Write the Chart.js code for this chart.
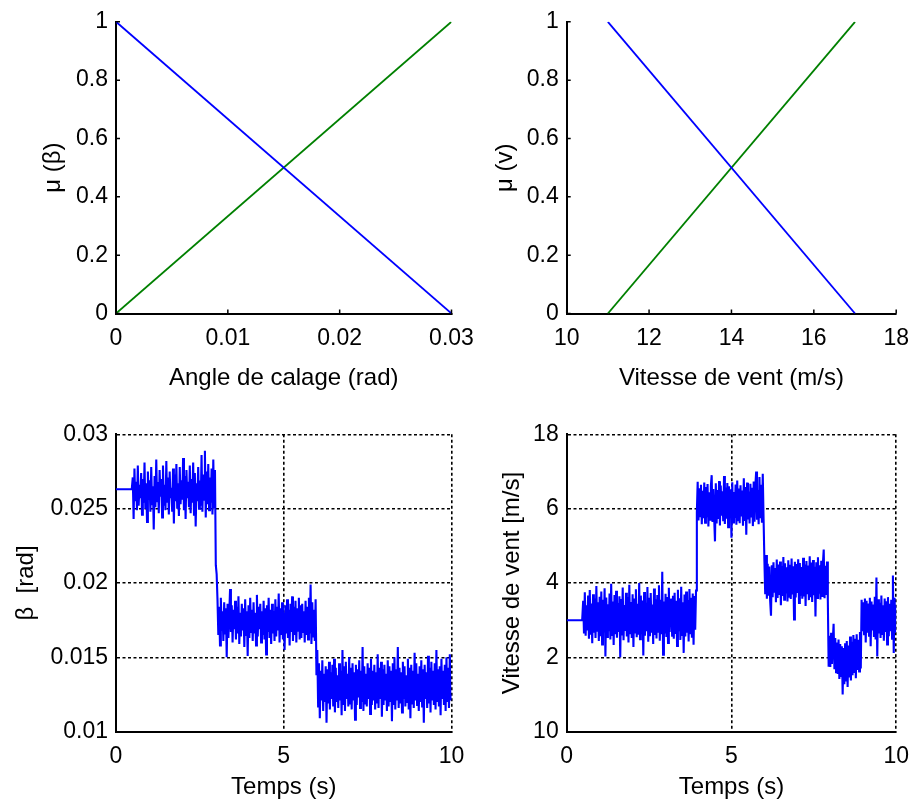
<!DOCTYPE html>
<html>
<head>
<meta charset="utf-8">
<script src="https://cdn.jsdelivr.net/npm/chart.js@4.4.1/dist/chart.umd.min.js"></script>
<style>
  html, body { margin: 0; padding: 0; background: #ffffff; }
  #figure { position: relative; width: 920px; height: 805px; }
  #figure canvas { position: absolute; left: 0; top: 0; }
</style>
</head>
<body>
<div id="figure">
  <canvas id="pitchMembership" width="920" height="805"></canvas>
  <canvas id="windMembership" width="920" height="805"></canvas>
  <canvas id="pitchResponse" width="920" height="805"></canvas>
  <canvas id="windResponse" width="920" height="805"></canvas>
</div>
<script>
// ---- Membership functions (top row) ----
const pitchAngles = [0, 0.03];
const pitchMuLow = [1, 0];
const pitchMuHigh = [0, 1];
const windSpeeds = [11, 17];
const windMuLow = [1, 0];
const windMuHigh = [0, 1];

// ---- Tick values and labels ----
const pitchTickValues = [0, 0.01, 0.02, 0.03];
const pitchTickLabels = ['0', '0.01', '0.02', '0.03'];
const muTickValues = [0, 0.2, 0.4, 0.6, 0.8, 1];
const muTickLabels = ['0', '0.2', '0.4', '0.6', '0.8', '1'];
const speedTickValues = [10, 12, 14, 16, 18];
const speedTickLabels = ['10', '12', '14', '16', '18'];
const timeTickValues = [0, 5, 10];
const timeTickLabels = ['0', '5', '10'];
const betaTickValues = [0.01, 0.015, 0.02, 0.025, 0.03];
const betaTickLabels = ['0.01', '0.015', '0.02', '0.025', '0.03'];
const windTickValues = [0, 2, 4, 6, 8];
const windTickLabels = ['10', '2', '4', '6', '18'];

// ---- Simulation time samples (s) ----
const sampleTimes = [
  0, 0.47,
  0.5, 0.525, 0.55, 0.575, 0.6, 0.625, 0.65, 0.675, 0.7, 0.725, 0.75, 0.775, 0.8, 0.825, 0.85, 0.875, 0.9, 0.925, 0.95, 0.975,
  1, 1.025, 1.05, 1.075, 1.1, 1.125, 1.15, 1.175, 1.2, 1.225, 1.25, 1.275, 1.3, 1.325, 1.35, 1.375, 1.4, 1.425, 1.45, 1.475,
  1.5, 1.525, 1.55, 1.575, 1.6, 1.625, 1.65, 1.675, 1.7, 1.725, 1.75, 1.775, 1.8, 1.825, 1.85, 1.875, 1.9, 1.925, 1.95, 1.975,
  2, 2.025, 2.05, 2.075, 2.1, 2.125, 2.15, 2.175, 2.2, 2.225, 2.25, 2.275, 2.3, 2.325, 2.35, 2.375, 2.4, 2.425, 2.45, 2.475,
  2.5, 2.525, 2.55, 2.575, 2.6, 2.625, 2.65, 2.675, 2.7, 2.725, 2.75, 2.775, 2.8, 2.825, 2.85, 2.875, 2.9, 2.925, 2.95, 2.975,
  3, 3.025, 3.05, 3.075, 3.1, 3.125, 3.15, 3.175, 3.2, 3.225, 3.25, 3.275, 3.3, 3.325, 3.35, 3.375, 3.4, 3.425, 3.45, 3.475,
  3.5, 3.525, 3.55, 3.575, 3.6, 3.625, 3.65, 3.675, 3.7, 3.725, 3.75, 3.775, 3.8, 3.825, 3.85, 3.875, 3.9, 3.925, 3.95, 3.975,
  4, 4.025, 4.05, 4.075, 4.1, 4.125, 4.15, 4.175, 4.2, 4.225, 4.25, 4.275, 4.3, 4.325, 4.35, 4.375, 4.4, 4.425, 4.45, 4.475,
  4.5, 4.525, 4.55, 4.575, 4.6, 4.625, 4.65, 4.675, 4.7, 4.725, 4.75, 4.775, 4.8, 4.825, 4.85, 4.875, 4.9, 4.925, 4.95, 4.975,
  5, 5.025, 5.05, 5.075, 5.1, 5.125, 5.15, 5.175, 5.2, 5.225, 5.25, 5.275, 5.3, 5.325, 5.35, 5.375, 5.4, 5.425, 5.45, 5.475,
  5.5, 5.525, 5.55, 5.575, 5.6, 5.625, 5.65, 5.675, 5.7, 5.725, 5.75, 5.775, 5.8, 5.825, 5.85, 5.875, 5.9, 5.925, 5.95, 5.975,
  6, 6.025, 6.05, 6.075, 6.1, 6.125, 6.15, 6.175, 6.2, 6.225, 6.25, 6.275, 6.3, 6.325, 6.35, 6.375, 6.4, 6.425, 6.45, 6.475,
  6.5, 6.525, 6.55, 6.575, 6.6, 6.625, 6.65, 6.675, 6.7, 6.725, 6.75, 6.775, 6.8, 6.825, 6.85, 6.875, 6.9, 6.925, 6.95, 6.975,
  7, 7.025, 7.05, 7.075, 7.1, 7.125, 7.15, 7.175, 7.2, 7.225, 7.25, 7.275, 7.3, 7.325, 7.35, 7.375, 7.4, 7.425, 7.45, 7.475,
  7.5, 7.525, 7.55, 7.575, 7.6, 7.625, 7.65, 7.675, 7.7, 7.725, 7.75, 7.775, 7.8, 7.825, 7.85, 7.875, 7.9, 7.925, 7.95, 7.975,
  8, 8.025, 8.05, 8.075, 8.1, 8.125, 8.15, 8.175, 8.2, 8.225, 8.25, 8.275, 8.3, 8.325, 8.35, 8.375, 8.4, 8.425, 8.45, 8.475,
  8.5, 8.525, 8.55, 8.575, 8.6, 8.625, 8.65, 8.675, 8.7, 8.725, 8.75, 8.775, 8.8, 8.825, 8.85, 8.875, 8.9, 8.925, 8.95, 8.975,
  9, 9.025, 9.05, 9.075, 9.1, 9.125, 9.15, 9.175, 9.2, 9.225, 9.25, 9.275, 9.3, 9.325, 9.35, 9.375, 9.4, 9.425, 9.45, 9.475,
  9.5, 9.525, 9.55, 9.575, 9.6, 9.625, 9.65, 9.675, 9.7, 9.725, 9.75, 9.775, 9.8, 9.825, 9.85, 9.875, 9.9, 9.925, 9.95, 9.975,
  10
];

// ---- Pitch angle β (rad) ----
const betaHold = [0.0263, 0.0263];                 // t = 0 .. 0.47
const betaStage1 = [                               // t = 0.500 .. 2.950
  0.0271, 0.0243, 0.0277, 0.0255, 0.0268, 0.0249, 0.0279, 0.0252, 0.0266, 0.0257,
  0.0274, 0.0246, 0.0270, 0.0254, 0.0281, 0.0250, 0.0267, 0.0241, 0.0275, 0.0256,
  0.0269, 0.0248, 0.0278, 0.0253, 0.0265, 0.0236, 0.0272, 0.0251, 0.0283, 0.0255,
  0.0268, 0.0247, 0.0276, 0.0258, 0.0270, 0.0244, 0.0279, 0.0252, 0.0266, 0.0249,
  0.0282, 0.0254, 0.0271, 0.0246, 0.0275, 0.0257, 0.0264, 0.0248, 0.0277, 0.0240,
  0.0273, 0.0255, 0.0280, 0.0250, 0.0267, 0.0245, 0.0278, 0.0253, 0.0269, 0.0256,
  0.0284, 0.0249, 0.0272, 0.0243, 0.0276, 0.0257, 0.0268, 0.0251, 0.0279, 0.0247,
  0.0270, 0.0254, 0.0281, 0.0246, 0.0274, 0.0238, 0.0267, 0.0255, 0.0278, 0.0250,
  0.0269, 0.0252, 0.0286, 0.0248, 0.0273, 0.0256, 0.0289, 0.0244, 0.0275, 0.0253,
  0.0280, 0.0249, 0.0271, 0.0254, 0.0277, 0.0246, 0.0283, 0.0251, 0.0276
];
const betaStep1 = [0.0212, 0.0206];                // t = 2.975, 3.000
const betaStage2 = [                               // t = 3.025 .. 5.950
  0.0189, 0.0165, 0.0184, 0.0158, 0.0190, 0.0168, 0.0181, 0.0161, 0.0187, 0.0166,
  0.0183, 0.0150, 0.0186, 0.0163, 0.0179, 0.0196, 0.0167, 0.0185, 0.0160, 0.0182,
  0.0169, 0.0188, 0.0162, 0.0184, 0.0166, 0.0191, 0.0159, 0.0180, 0.0164, 0.0186,
  0.0168, 0.0183, 0.0157, 0.0189, 0.0165, 0.0181, 0.0151, 0.0185, 0.0163, 0.0190,
  0.0167, 0.0182, 0.0161, 0.0187, 0.0166, 0.0180, 0.0158, 0.0192, 0.0164, 0.0184,
  0.0169, 0.0186, 0.0160, 0.0181, 0.0165, 0.0188, 0.0162, 0.0183, 0.0152, 0.0185,
  0.0167, 0.0190, 0.0163, 0.0182, 0.0159, 0.0186, 0.0166, 0.0181, 0.0161, 0.0189,
  0.0164, 0.0184, 0.0168, 0.0193, 0.0160, 0.0183, 0.0165, 0.0187, 0.0162, 0.0180,
  0.0155, 0.0185, 0.0166, 0.0189, 0.0163, 0.0182, 0.0158, 0.0186, 0.0167, 0.0191,
  0.0161, 0.0184, 0.0165, 0.0188, 0.0160, 0.0183, 0.0168, 0.0190, 0.0162, 0.0185,
  0.0163, 0.0186, 0.0167, 0.0181, 0.0160, 0.0188, 0.0165, 0.0184, 0.0162, 0.0190,
  0.0166, 0.0199, 0.0159, 0.0187, 0.0164, 0.0182, 0.0161, 0.0189
];
const betaStep2 = [0.0138];                        // t = 5.975
const betaStage3 = [                               // t = 6.000 .. 9.975
  0.0155, 0.0117, 0.0146, 0.0109, 0.0141, 0.0121, 0.0148, 0.0114, 0.0139, 0.0120,
  0.0144, 0.0106, 0.0142, 0.0119, 0.0147, 0.0115, 0.0140, 0.0122, 0.0145, 0.0117,
  0.0149, 0.0113, 0.0143, 0.0120, 0.0138, 0.0116, 0.0146, 0.0121, 0.0141, 0.0111,
  0.0155, 0.0118, 0.0144, 0.0114, 0.0147, 0.0122, 0.0139, 0.0117, 0.0150, 0.0119,
  0.0143, 0.0115, 0.0146, 0.0121, 0.0140, 0.0108, 0.0145, 0.0118, 0.0142, 0.0123,
  0.0148, 0.0116, 0.0141, 0.0120, 0.0157, 0.0114, 0.0144, 0.0119, 0.0139, 0.0117,
  0.0146, 0.0122, 0.0143, 0.0112, 0.0149, 0.0118, 0.0141, 0.0121, 0.0145, 0.0115,
  0.0140, 0.0119, 0.0152, 0.0116, 0.0143, 0.0122, 0.0147, 0.0110, 0.0142, 0.0118,
  0.0145, 0.0121, 0.0139, 0.0114, 0.0148, 0.0117, 0.0144, 0.0120, 0.0141, 0.0107,
  0.0146, 0.0118, 0.0150, 0.0115, 0.0142, 0.0121, 0.0157, 0.0116, 0.0143, 0.0119,
  0.0140, 0.0113, 0.0147, 0.0122, 0.0144, 0.0117, 0.0138, 0.0120, 0.0149, 0.0115,
  0.0143, 0.0109, 0.0145, 0.0119, 0.0141, 0.0116, 0.0153, 0.0121, 0.0146, 0.0118,
  0.0139, 0.0114, 0.0144, 0.0120, 0.0148, 0.0117, 0.0142, 0.0106, 0.0145, 0.0122,
  0.0140, 0.0116, 0.0151, 0.0119, 0.0143, 0.0113, 0.0147, 0.0121, 0.0141, 0.0118,
  0.0146, 0.0115, 0.0155, 0.0120, 0.0142, 0.0117, 0.0144, 0.0111, 0.0149, 0.0122,
  0.0141, 0.0118, 0.0145, 0.0114, 0.0150, 0.0120, 0.0143, 0.0116, 0.0152, 0.0121
];
const betaEnd = [0.0125];                          // t = 10

// ---- Wind speed (axis units) ----
const windHold = [3.0, 3.0];                       // t = 0 .. 0.47
const windStage1 = [                               // t = 0.500 .. 3.925
  3.52, 2.64, 3.75, 2.58, 3.40, 2.72, 3.66, 2.50, 3.81, 2.61,
  3.45, 2.38, 3.70, 2.66, 3.58, 2.52, 3.92, 2.69, 3.48, 2.44,
  3.63, 2.57, 3.77, 2.35, 3.55, 2.67, 3.86, 2.02, 3.61, 2.55,
  3.43, 2.70, 3.72, 2.48, 3.98, 2.60, 3.50, 2.33, 3.68, 2.62,
  3.79, 2.53, 3.46, 2.68, 3.64, 2.00, 3.57, 2.59, 3.88, 2.46,
  3.41, 2.71, 3.74, 2.56, 3.62, 2.40, 3.95, 2.65, 3.49, 2.52,
  3.70, 2.28, 3.58, 2.67, 3.83, 2.54, 3.44, 2.61, 4.00, 2.49,
  3.66, 2.63, 3.53, 2.05, 3.76, 2.58, 3.47, 2.70, 3.89, 2.42,
  3.60, 2.57, 3.73, 2.66, 3.42, 2.36, 3.85, 2.60, 3.56, 2.51,
  3.68, 2.69, 3.94, 2.45, 3.55, 2.62, 4.30, 2.07, 3.50, 2.64,
  3.71, 2.55, 3.62, 2.39, 3.87, 2.68, 3.45, 3.58, 2.58, 3.66,
  2.50, 3.74, 2.63, 3.52, 2.31, 3.82, 2.70, 3.59, 2.47, 3.90,
  2.60, 3.48, 2.12, 3.69, 2.56, 3.77, 2.66, 3.54, 2.43, 3.84,
  2.62, 3.60, 2.53, 3.72, 2.34, 3.65, 2.74, 3.80
];
const windStep1 = [5.9];                           // t = 3.950
const windStage2 = [                               // t = 3.975 .. 5.975
  6.72, 5.68, 6.55, 5.80, 6.64, 5.58, 6.48, 5.74, 6.70, 5.62,
  6.58, 5.77, 6.66, 5.52, 6.44, 5.70, 6.61, 6.90, 5.64, 6.53,
  5.76, 5.12, 6.68, 5.60, 6.50, 5.72, 6.74, 5.55, 6.62, 5.81,
  6.47, 5.66, 6.88, 5.59, 6.57, 5.73, 6.69, 5.50, 6.60, 5.78,
  6.52, 5.22, 6.71, 5.63, 6.45, 5.75, 6.65, 5.57, 6.76, 5.69,
  6.54, 5.61, 6.63, 5.79, 6.49, 5.54, 6.82, 5.67, 6.58, 5.30,
  6.70, 5.71, 6.46, 5.60, 6.67, 5.76, 6.56, 5.53, 6.73, 5.65,
  6.61, 7.00, 5.70, 6.50, 5.58, 6.85, 5.74, 6.64, 5.62, 6.94,
  5.72
];
const windStage3 = [                               // t = 6.000 .. 7.925
  4.60, 3.70, 4.75, 3.58, 4.52, 3.66, 4.44, 3.52, 3.12, 4.48,
  3.62, 4.56, 3.74, 4.40, 3.48, 4.63, 3.60, 4.50, 3.68, 4.58,
  3.40, 4.46, 3.65, 4.70, 3.55, 4.53, 3.72, 4.42, 3.50, 4.61,
  3.63, 4.49, 3.57, 4.66, 3.69, 4.45, 3.02, 4.57, 3.61, 4.51,
  3.73, 4.64, 3.46, 4.54, 3.66, 4.43, 3.58, 4.68, 3.64, 4.50,
  3.38, 4.59, 3.70, 4.47, 3.54, 4.72, 3.62, 4.55, 3.49, 4.62,
  3.67, 4.44, 3.10, 4.56, 3.60, 4.69, 3.71, 4.48, 3.56, 4.60,
  3.65, 4.52, 4.90, 3.59, 4.46, 3.68, 4.58, 3.53
];
const windStep2 = [1.75];                          // t = 7.950
const windStage4 = [                               // t = 7.975 .. 8.925
  2.58, 1.74, 2.66, 1.82, 2.45, 2.90, 1.68, 2.52, 1.60, 2.40,
  1.55, 2.48, 1.42, 2.36, 1.50, 2.30, 1.00, 2.25, 1.28, 2.38,
  1.35, 2.44, 1.20, 2.32, 1.46, 2.56, 1.38, 2.42, 1.52, 2.60,
  1.58, 2.50, 1.44, 2.62, 1.66, 2.47, 1.62, 2.68, 1.70
];
const windStage5 = [                               // t = 8.950 .. 9.975
  3.55, 2.70, 3.48, 2.62, 3.58, 2.40, 3.52, 2.66, 3.45, 2.58,
  3.60, 2.30, 3.50, 2.72, 3.42, 2.55, 3.63, 2.48, 4.15, 2.02,
  3.56, 2.64, 3.47, 2.52, 3.66, 2.60, 3.40, 2.45, 3.58, 2.68,
  3.51, 2.35, 3.62, 2.57, 3.44, 2.70, 3.55, 2.50, 4.20, 2.12,
  3.60, 2.66
];
const windEnd = [3.4];                             // t = 10

const betaSeries = [].concat(betaHold, betaStage1, betaStep1, betaStage2, betaStep2, betaStage3, betaEnd);
const windSeries = [].concat(windHold, windStage1, windStep1, windStage2, windStage3, windStep2, windStage4, windStage5, windEnd);

const toPoints = (xs, ys) => xs.map((x, i) => ({ x: x, y: ys[i] }));

// ---- Styling ----
const FONT = "'Liberation Sans', Arial, Helvetica, sans-serif";
const BLUE = '#0000ff';
const GREEN = '#008000';

// Short inward tick marks on the axes (top row)
const inwardTicks = {
  id: 'inwardTicks',
  afterDraw(chart) {
    const { ctx, chartArea } = chart;
    const xs = chart.scales.x, ys = chart.scales.y;
    ctx.save();
    ctx.strokeStyle = '#000';
    ctx.lineWidth = 1.5;
    ctx.beginPath();
    xs.ticks.forEach(t => {
      const px = xs.getPixelForValue(t.value);
      ctx.moveTo(px, chartArea.bottom);
      ctx.lineTo(px, chartArea.bottom - 4);
    });
    ys.ticks.forEach(t => {
      const py = ys.getPixelForValue(t.value);
      ctx.moveTo(chartArea.left, py);
      ctx.lineTo(chartArea.left + 4, py);
    });
    ctx.stroke();
    ctx.restore();
  }
};

function axis(kind, a, gridded) {
  const isX = kind === 'x';
  return {
    type: 'linear',
    position: isX ? 'bottom' : 'left',
    min: a.values[0],
    max: a.values[a.values.length - 1],
    afterBuildTicks: s => { s.ticks = a.values.map(v => ({ value: v })); },
    afterFit: s => { if (isX) { s.height = a.size; } else { s.width = a.size; } },
    grid: {
      display: gridded,
      drawTicks: false,
      color: '#000000',
      lineWidth: 1.6
    },
    border: { display: true, color: '#000000', width: 2, dash: gridded ? [3, 2.5] : [] },
    ticks: {
      autoSkip: false,
      maxRotation: 0,
      color: '#000000',
      padding: isX ? 11 : 8,
      font: { family: FONT, size: 23 },
      callback: (v, i) => a.labels[i]
    },
    title: {
      display: true,
      text: a.title,
      color: '#000000',
      font: { family: FONT, size: 24 },
      padding: isX ? { top: 0, bottom: a.titlePad } : { top: a.titlePad, bottom: 0 }
    }
  };
}

function drawPanel(id, datasets, cfg) {
  return new Chart(document.getElementById(id), {
    type: 'line',
    data: { datasets: datasets },
    options: {
      responsive: false,
      animation: false,
      events: [],
      layout: { padding: cfg.padding },
      elements: { point: { radius: 0 }, line: { tension: 0 } },
      plugins: { legend: { display: false }, tooltip: { enabled: false } },
      scales: {
        x: axis('x', cfg.x, cfg.grid),
        y: axis('y', cfg.y, cfg.grid)
      }
    },
    plugins: cfg.grid ? [] : [inwardTicks]
  });
}

// μ(β) versus pitch angle
drawPanel('pitchMembership', [
  { data: toPoints(pitchAngles, pitchMuLow), borderColor: BLUE, borderWidth: 1.8 },
  { data: toPoints(pitchAngles, pitchMuHigh), borderColor: GREEN, borderWidth: 1.8 }
], {
  grid: false,
  padding: { left: 0, top: 20, right: 468.5, bottom: 401.5 },
  x: { values: pitchTickValues, labels: pitchTickLabels, size: 90, title: 'Angle de calage (rad)', titlePad: 11.1 },
  y: { values: muTickValues, labels: muTickLabels, size: 116, title: 'μ (β)', titlePad: 38.6 }
});

// μ(v) versus wind speed
drawPanel('windMembership', [
  { data: toPoints(windSpeeds, windMuLow), borderColor: BLUE, borderWidth: 1.8 },
  { data: toPoints(windSpeeds, windMuHigh), borderColor: GREEN, borderWidth: 1.8 }
], {
  grid: false,
  padding: { left: 460, top: 20, right: 15, bottom: 401.5 },
  x: { values: speedTickValues, labels: speedTickLabels, size: 90, title: 'Vitesse de vent (m/s)', titlePad: 11.1 },
  y: { values: muTickValues, labels: muTickLabels, size: 106.7, title: 'μ (v)', titlePad: 30.6 }
});

// Pitch angle response over time
drawPanel('pitchResponse', [
  { data: toPoints(sampleTimes, betaSeries), borderColor: BLUE, borderWidth: 2.1 }
], {
  grid: true,
  padding: { left: 0, top: 434.3, right: 468.5, bottom: 0 },
  x: { values: timeTickValues, labels: timeTickLabels, size: 73.3, title: 'Temps (s)', titlePad: 3.4 },
  y: { values: betaTickValues, labels: betaTickLabels, size: 116, title: 'β  [rad]', titlePad: 11.6 }
});

// Wind speed profile over time
drawPanel('windResponse', [
  { data: toPoints(sampleTimes, windSeries), borderColor: BLUE, borderWidth: 2.1 }
], {
  grid: true,
  padding: { left: 460, top: 434.3, right: 15, bottom: 0 },
  x: { values: timeTickValues, labels: timeTickLabels, size: 73.3, title: 'Temps (s)', titlePad: 3.4 },
  y: { values: windTickValues, labels: windTickLabels, size: 106.7, title: 'Vitesse de vent [m/s]', titlePad: 37.6 }
});
</script>
</body>
</html>
